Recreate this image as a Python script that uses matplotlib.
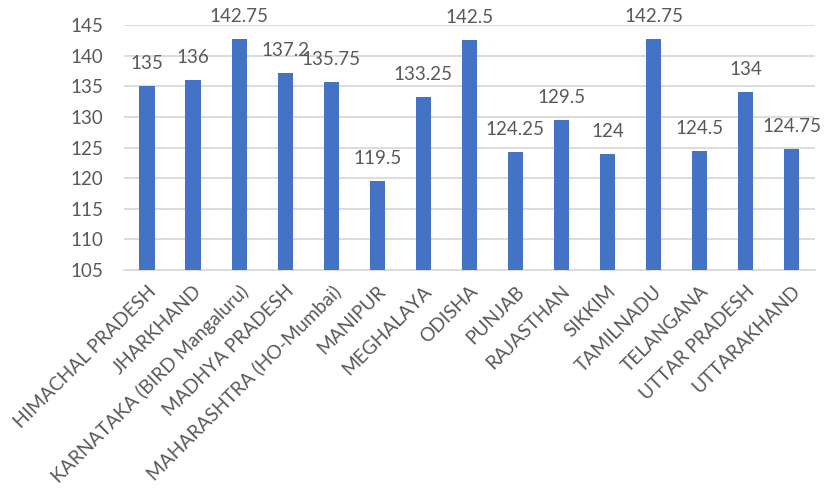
import matplotlib
matplotlib.use("Agg")
import matplotlib.pyplot as plt

# ── Data ──────────────────────────────────────────────────────────────────────
states = ["HIMACHAL PRADESH", "JHARKHAND", "KARNATAKA (BIRD Mangaluru)",
          "MADHYA PRADESH", "MAHARASHTRA (HO-Mumbai)", "MANIPUR", "MEGHALAYA",
          "ODISHA", "PUNJAB", "RAJASTHAN", "SIKKIM", "TAMILNADU", "TELANGANA",
          "UTTAR PRADESH", "UTTARAKHAND"]
values = [135, 136, 142.75, 137.2, 135.75, 119.5, 133.25, 142.5, 124.25,
          129.5, 124, 142.75, 124.5, 134, 124.75]
yticks = [105, 110, 115, 120, 125, 130, 135, 140, 145]

BAR = "#4472C4"
TXT = "#595959"
GRID = "#D9D9D9"

plt.rcParams["font.family"] = ["Lato", "DejaVu Sans"]

fig = plt.figure(figsize=(8.29, 4.95), dpi=100)
ax = fig.add_axes([0.1496, 0.4545, 0.833, 0.495])

x = range(len(states))
ax.bar(x, [v - 105 for v in values], bottom=105, width=0.33, color=BAR, zorder=3)

# data labels above each bar
for xi, v in zip(x, values):
    ax.annotate(f"{v:g}", (xi, v), xytext=(0, 10), textcoords="offset points",
                ha="center", va="bottom", fontsize=13.5, color=TXT,
                annotation_clip=False)

ax.set_xlim(-0.5, len(states) - 0.5)
ax.set_ylim(105, 145)
ax.set_yticks(yticks)
ax.set_yticklabels([str(t) for t in yticks], fontsize=13.5, color=TXT)
ax.set_xticks(list(x))
ax.set_xticklabels(states, rotation=45, ha="right", rotation_mode="anchor",
                   fontsize=13.8, color=TXT)
ax.tick_params(axis="both", length=0)
ax.tick_params(axis="y", pad=15)
ax.tick_params(axis="x", pad=9)

ax.grid(axis="y", color=GRID, linewidth=1.3, zorder=0)
for s in ["top", "right", "left"]:
    ax.spines[s].set_visible(False)
ax.spines["bottom"].set_color(GRID)
ax.spines["bottom"].set_linewidth(1.3)

plt.savefig("out.png", dpi=100)
